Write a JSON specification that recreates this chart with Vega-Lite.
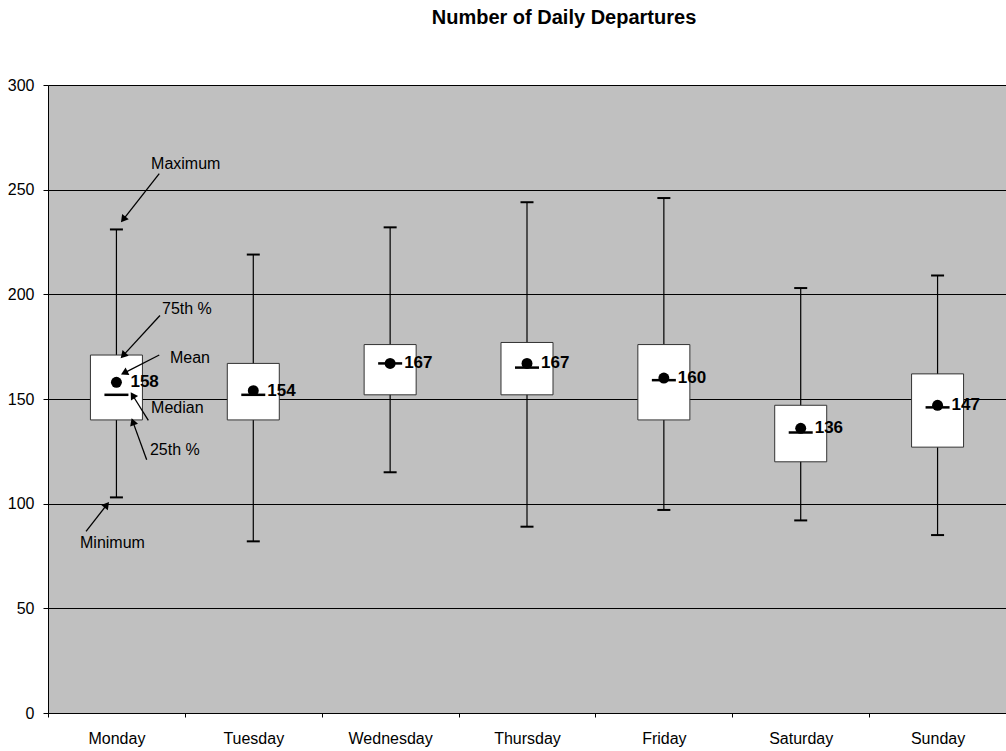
{
  "$schema": "https://vega.github.io/schema/vega-lite/v6.json",
  "width": 958,
  "height": 628,
  "autosize": {"type": "none"},
  "padding": {"left": 48, "top": 85, "right": 0, "bottom": 38},
  "background": "white",
  "title": {
    "text": "Number of Daily Departures",
    "font": "Liberation Sans",
    "fontSize": 20,
    "fontWeight": "bold",
    "color": "black",
    "anchor": "middle",
    "frame": "group",
    "baseline": "alphabetic",
    "offset": 33,
    "dx": 37
  },
  "config": {
    "view": {"fill": "#c0c0c0", "stroke": null}
  },
  "datasets": {
    "stats": [
      {"day": "Monday", "min": 103, "q1": 140, "median": 152, "mean": 158, "q3": 171, "max": 231},
      {"day": "Tuesday", "min": 82, "q1": 140, "median": 152, "mean": 154, "q3": 167, "max": 219},
      {"day": "Wednesday", "min": 115, "q1": 152, "median": 167, "mean": 167, "q3": 176, "max": 232},
      {"day": "Thursday", "min": 89, "q1": 152, "median": 165, "mean": 167, "q3": 177, "max": 244},
      {"day": "Friday", "min": 97, "q1": 140, "median": 159, "mean": 160, "q3": 176, "max": 246},
      {"day": "Saturday", "min": 92, "q1": 120, "median": 134, "mean": 136, "q3": 147, "max": 203},
      {"day": "Sunday", "min": 85, "q1": 127, "median": 146, "mean": 147, "q3": 162, "max": 209}
    ],
    "notes": [
      {"label": "Maximum", "tx": 0.753, "ty": 262.4, "x1": 0.813, "y1": 257.7, "x2": 0.555, "y2": 236.2, "angle": 218},
      {"label": "75th %", "tx": 0.833, "ty": 193.2, "x1": 0.818, "y1": 189.9, "x2": 0.555, "y2": 171.2, "angle": 223},
      {"label": "Mean", "tx": 0.891, "ty": 169.8, "x1": 0.813, "y1": 171.0, "x2": 0.565, "y2": 162.7, "angle": 243},
      {"label": "Median", "tx": 0.753, "ty": 145.9, "x1": 0.733, "y1": 139.8, "x2": 0.623, "y2": 151.3, "angle": 328},
      {"label": "25th %", "tx": 0.745, "ty": 125.8, "x1": 0.721, "y1": 121.0, "x2": 0.623, "y2": 138.6, "angle": 340},
      {"label": "Minimum", "tx": 0.234, "ty": 81.4, "x1": 0.278, "y1": 86.8, "x2": 0.424, "y2": 99.0, "angle": 38}
    ]
  },
  "layer": [
    {
      "data": {"name": "stats"},
      "encoding": {
        "x": {
          "field": "day",
          "type": "nominal",
          "sort": null,
          "scale": {"paddingInner": 0, "paddingOuter": 0},
          "axis": {
            "title": null,
            "labelAngle": 0,
            "tickBand": "extent",
            "tickSize": 4,
            "tickColor": "black",
            "domainColor": "black",
            "labelFont": "Liberation Sans",
            "labelFontSize": 16,
            "labelColor": "black",
            "labelPadding": 13,
            "grid": false
          }
        }
      },
      "layer": [
        {
          "mark": {"type": "rule", "color": "black", "strokeWidth": 1.2},
          "encoding": {
            "y": {
              "field": "min",
              "type": "quantitative",
              "scale": {"domain": [0, 300], "nice": false},
              "axis": {
                "values": [0, 50, 100, 150, 200, 250, 300],
                "title": null,
                "grid": true,
                "gridColor": "black",
                "gridWidth": 1,
                "gridOpacity": 1,
                "tickSize": 5,
                "tickColor": "black",
                "domainColor": "black",
                "labelFont": "Liberation Sans",
                "labelFontSize": 16,
                "labelColor": "black",
                "labelPadding": 9
              }
            },
            "y2": {"field": "max"}
          }
        },
        {
          "mark": {"type": "bar", "width": {"band": 0.38}, "fill": "white", "stroke": "#333333", "strokeWidth": 1},
          "encoding": {
            "y": {"field": "q1", "type": "quantitative", "title": null},
            "y2": {"field": "q3"}
          }
        },
        {
          "mark": {"type": "tick", "size": 24, "thickness": 2.5, "color": "black", "opacity": 1},
          "encoding": {"y": {"field": "median", "type": "quantitative", "title": null}}
        },
        {
          "mark": {"type": "tick", "size": 13, "thickness": 2, "color": "black", "opacity": 1},
          "encoding": {"y": {"field": "min", "type": "quantitative", "title": null}}
        },
        {
          "mark": {"type": "tick", "size": 13, "thickness": 2, "color": "black", "opacity": 1},
          "encoding": {"y": {"field": "max", "type": "quantitative", "title": null}}
        },
        {
          "mark": {"type": "point", "filled": true, "size": 120, "color": "black", "opacity": 1},
          "encoding": {"y": {"field": "mean", "type": "quantitative", "title": null}}
        },
        {
          "mark": {"type": "text", "align": "left", "baseline": "middle", "dx": 14, "font": "Liberation Sans", "fontWeight": "bold", "fontSize": 17, "color": "black"},
          "encoding": {
            "y": {"field": "mean", "type": "quantitative", "title": null},
            "text": {"field": "mean", "type": "quantitative"}
          }
        }
      ]
    },
    {
      "data": {"name": "notes"},
      "layer": [
        {
          "mark": {"type": "rule", "color": "black", "strokeWidth": 1.3},
          "encoding": {
            "x": {"field": "x1", "type": "quantitative", "scale": {"domain": [0, 7], "nice": false, "zero": false}, "axis": null},
            "x2": {"field": "x2"},
            "y": {"field": "y1", "type": "quantitative", "title": null},
            "y2": {"field": "y2"}
          }
        },
        {
          "mark": {"type": "point", "shape": "triangle", "filled": true, "size": 70, "color": "black", "opacity": 1},
          "encoding": {
            "x": {"field": "x2", "type": "quantitative", "scale": {"domain": [0, 7], "nice": false, "zero": false}, "axis": null},
            "y": {"field": "y2", "type": "quantitative", "title": null},
            "angle": {"field": "angle", "type": "quantitative", "scale": null}
          }
        },
        {
          "mark": {"type": "text", "align": "left", "baseline": "middle", "font": "Liberation Sans", "fontSize": 16, "color": "black"},
          "encoding": {
            "x": {"field": "tx", "type": "quantitative", "scale": {"domain": [0, 7], "nice": false, "zero": false}, "axis": null},
            "y": {"field": "ty", "type": "quantitative", "title": null},
            "text": {"field": "label", "type": "nominal"}
          }
        }
      ]
    }
  ],
  "resolve": {"scale": {"x": "independent"}, "axis": {"x": "independent"}}
}
